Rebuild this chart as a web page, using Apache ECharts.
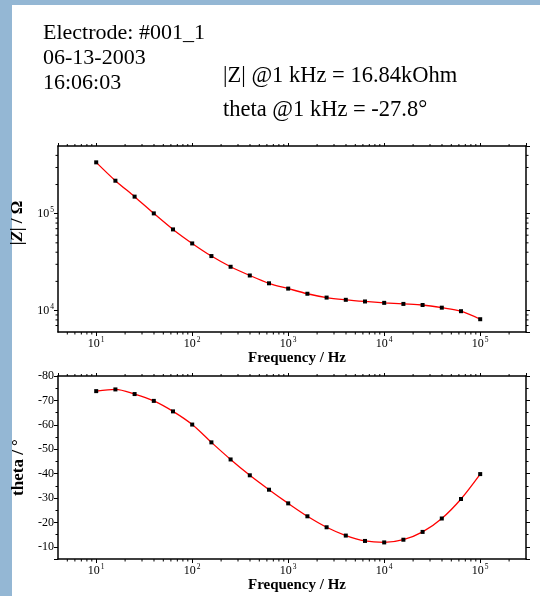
<!DOCTYPE html>
<html><head><meta charset="utf-8">
<script src="https://cdn.jsdelivr.net/npm/echarts@6/dist/echarts.min.js"></script>
<style>html,body{margin:0;padding:0;background:#94b7d4}#c{width:540px;height:596px}</style>
</head><body><div id="c"></div><script>
// ---- data ----
const freq = [10, 15.85, 25.12, 39.81, 63.1, 100, 158.5, 251.2, 398.1, 631, 1000, 1585, 2512, 3981, 6310, 10000, 15850, 25120, 39810, 63100, 100000];
const impedance = [339000, 219000, 150000, 100700, 68800, 49300, 36500, 28300, 23000, 19100, 16840, 14900, 13600, 12900, 12400, 12000, 11700, 11400, 10700, 9840, 8130];
const theta = [-73.8, -74.5, -72.6, -69.8, -65.5, -60.1, -52.8, -45.8, -39.3, -33.4, -27.8, -22.5, -18.0, -14.6, -12.4, -11.8, -12.9, -16.1, -21.6, -29.6, -39.8];
const infoLines = ['Electrode: #001_1', '06-13-2003', '16:06:03'];
const summaryLines = ['|Z| @1 kHz = 16.84kOhm', 'theta @1 kHz = -27.8°'];
const freqRange = [4, 300000];
const impedanceRange = [6000, 500000];
const thetaRange = [-80, -5];
const xMinorTicks = [5,6,7,8,9,20,30,40,50,60,70,80,90,200,300,400,500,600,700,800,900,2000,3000,4000,5000,6000,7000,8000,9000,20000,30000,40000,50000,60000,70000,80000,90000,200000];
const yMinorTicks = [7000,8000,9000,20000,30000,40000,50000,60000,70000,80000,90000,200000,300000,400000];

const SERIF = '"Liberation Serif", "Times New Roman", serif';
const chart = echarts.init(document.getElementById('c'), null, {renderer: 'canvas'});

const supRich = {
  b: {fontSize: 12, fontFamily: SERIF, color: '#000', lineHeight: 15},
  s: {fontSize: 7.5, fontFamily: SERIF, color: '#000', verticalAlign: 'top', lineHeight: 8, padding: [0, 0, 0, 1]}
};
function powFmt(v) {
  const e = Math.round(Math.log10(v));
  return '{b|10}{s|' + e + '}';
}
const axisLine = {show: true, onZero: false, lineStyle: {color: '#000', width: 1.5}};

function logX(gridIndex, pos, labels) {
  return {
    type: 'log', gridIndex, position: pos, min: freqRange[0], max: freqRange[1],
    axisLine, splitLine: {show: false},
    axisTick: {show: true, inside: false, length: labels ? 4 : 3, lineStyle: {color: '#000', width: 1}},
    axisLabel: labels ? {show: true, formatter: powFmt, rich: supRich, margin: 4, showMinLabel: false, showMaxLabel: false} : {show: false},
    name: labels ? 'Frequency / Hz' : '', nameLocation: 'middle', nameGap: 18,
    nameTextStyle: {fontFamily: SERIF, fontWeight: 'bold', fontSize: 15, color: '#000', padding: [0, 0, 0, 10]}
  };
}
function yImp(pos, labels) {
  return {
    type: 'log', gridIndex: 0, position: pos, min: impedanceRange[0], max: impedanceRange[1],
    axisLine, splitLine: {show: false},
    axisTick: {show: true, inside: false, length: 4, lineStyle: {color: '#000', width: 1}},
    axisLabel: labels ? {show: true, formatter: powFmt, rich: supRich, margin: 4, showMinLabel: false, showMaxLabel: false} : {show: false},
    name: labels ? '|{i|Z}| / Ω' : '', nameLocation: 'middle', nameGap: 24, nameRotate: 90,
    nameTextStyle: {fontFamily: SERIF, fontWeight: 'bold', fontSize: 17, color: '#000', padding: [0, 0, 0, 32],
      rich: {i: {fontFamily: SERIF, fontWeight: 'bold', fontStyle: 'italic', fontSize: 17, color: '#000'}}}
  };
}
function yTheta(pos, labels) {
  return {
    type: 'value', gridIndex: 1, position: pos, min: thetaRange[0], max: thetaRange[1], interval: 10, inverse: true,
    axisLine, splitLine: {show: false},
    axisTick: {show: true, inside: false, length: 4, lineStyle: {color: '#000', width: 1}},
    minorTick: {show: true, splitNumber: 2, length: 2.5, lineStyle: {color: '#000', width: 1}},
    axisLabel: labels ? {show: true, fontFamily: SERIF, fontSize: 12, color: '#000', margin: 4, showMaxLabel: false} : {show: false},
    name: labels ? 'theta / °' : '', nameLocation: 'middle', nameGap: 24, nameRotate: 90,
    nameTextStyle: {fontFamily: SERIF, fontWeight: 'bold', fontSize: 17, color: '#000'}
  };
}

function xMinorRender(yRef) {
  return function (params, api) {
    const cs = params.coordSys;
    const x = api.coord([api.value(0), yRef])[0];
    const b = cs.y + cs.height;
    return {type: 'group', children: [
      {type: 'line', shape: {x1: x, y1: b, x2: x, y2: b + 2.5}, style: {stroke: '#000', lineWidth: 1}},
      {type: 'line', shape: {x1: x, y1: cs.y, x2: x, y2: cs.y - 2}, style: {stroke: '#000', lineWidth: 1}}
    ]};
  };
}
function yMinorRender(params, api) {
  const cs = params.coordSys;
  const y = api.coord([100, api.value(1)])[1];
  const r = cs.x + cs.width;
  return {type: 'group', children: [
    {type: 'line', shape: {x1: cs.x - 2.5, y1: y, x2: cs.x, y2: y}, style: {stroke: '#000', lineWidth: 1}},
    {type: 'line', shape: {x1: r, y1: y, x2: r + 2.5, y2: y}, style: {stroke: '#000', lineWidth: 1}}
  ]};
}

const lineSeries = (xi, yi, ys) => ({
  type: 'line', xAxisIndex: xi, yAxisIndex: yi,
  data: freq.map((f, i) => [f, ys[i]]),
  smooth: 0.3, symbol: 'rect', symbolSize: 4,
  lineStyle: {color: '#ff0000', width: 1.3},
  itemStyle: {color: '#000'}, z: 3
});

const infoTops = [22, 47, 72.5];
const sumTops = [64.5, 99];
const graphics = [{type: 'rect', shape: {x: 12, y: 5, width: 528, height: 591}, style: {fill: '#fff'}, z: -100, silent: true}];
infoLines.forEach((t, i) => graphics.push({type: 'text', x: 43, y: infoTops[i], style: {text: t, font: '22px ' + SERIF, fill: '#000', verticalAlign: 'top'}}));
summaryLines.forEach((t, i) => graphics.push({type: 'text', x: 223, y: sumTops[i], style: {text: t, font: '22.5px ' + SERIF, fill: '#000', verticalAlign: 'top'}}));

chart.setOption({
  animation: false,
  backgroundColor: '#94b7d4',
  graphic: graphics,
  grid: [
    {left: 58, top: 146, width: 468, height: 186},
    {left: 58, top: 376, width: 468, height: 183}
  ],
  xAxis: [logX(0, 'bottom', true), logX(0, 'top', false), logX(1, 'bottom', true), logX(1, 'top', false)],
  yAxis: [yImp('left', true), yImp('right', false), yTheta('left', true), yTheta('right', false)],
  series: [
    lineSeries(0, 0, impedance),
    lineSeries(2, 2, theta),
    {type: 'custom', xAxisIndex: 0, yAxisIndex: 0, clip: false, silent: true, renderItem: xMinorRender(10000), data: xMinorTicks.map(v => [v, 10000])},
    {type: 'custom', xAxisIndex: 0, yAxisIndex: 0, clip: false, silent: true, renderItem: yMinorRender, data: yMinorTicks.map(v => [100, v])},
    {type: 'custom', xAxisIndex: 2, yAxisIndex: 2, clip: false, silent: true, renderItem: xMinorRender(-40), data: xMinorTicks.map(v => [v, -40])}
  ]
});
</script></body></html>
